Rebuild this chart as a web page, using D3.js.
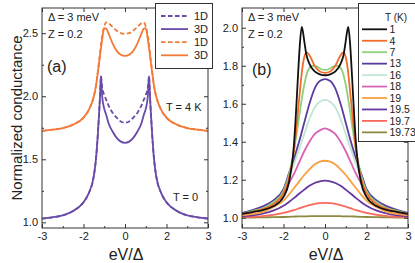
<!DOCTYPE html>
<html>
<head>
<meta charset="utf-8">
<script src="https://cdn.jsdelivr.net/npm/d3@7/dist/d3.min.js"></script>
<style>
  body { margin: 0; background: #fff; }
  svg { display: block; font-family: "Liberation Sans", Arial, sans-serif; }
</style>
</head>
<body>
<div id="chart"></div>
<script>
// ---- data ----
var xTicks = [-4, -2, 0, 2, 4];
var xTickLabels = ["-3", "-2", "0", "2", "3"];
var xMinor = [-3, -1, 1, 3];

var yTicksA = [1.0, 1.5, 2.0, 2.5];
var yMinorA = [1.25, 1.75, 2.25];
var yTicksB = [1.0, 1.2, 1.4, 1.6, 1.8, 2.0];
var yMinorB = [1.1, 1.3, 1.5, 1.7, 1.9];

// panel (a)
var xA = [-4, -3.5, -3, -2.5, -2, -1.75, -1.5, -1.4, -1.3, -1.25, -1.2, -1.16, -1.1, -1, -0.9, -0.8, -0.6, -0.4, -0.2, 0,
          0.2, 0.4, 0.6, 0.8, 0.9, 1, 1.1, 1.16, 1.2, 1.25, 1.3, 1.4, 1.5, 1.75, 2, 2.5, 3, 3.5, 4];
var t0_3D = [1.03, 1.04, 1.055, 1.09, 1.16, 1.23, 1.37, 1.5, 1.72, 1.86, 2.01, 2.16, 2.0, 1.9, 1.85, 1.79, 1.72, 1.67, 1.64, 1.63,
             1.64, 1.67, 1.72, 1.79, 1.85, 1.9, 2.0, 2.16, 2.01, 1.86, 1.72, 1.5, 1.37, 1.23, 1.16, 1.09, 1.055, 1.04, 1.03];
var t0_1D = [1.03, 1.04, 1.055, 1.09, 1.16, 1.23, 1.37, 1.5, 1.72, 1.86, 2.01, 2.16, 2.07, 2.01, 1.97, 1.93, 1.87, 1.83, 1.80, 1.79,
             1.80, 1.83, 1.87, 1.93, 1.97, 2.01, 2.07, 2.16, 2.01, 1.86, 1.72, 1.5, 1.37, 1.23, 1.16, 1.09, 1.055, 1.04, 1.03];
var t4_3D = [1.725, 1.735, 1.748, 1.775, 1.83, 1.89, 2.0, 2.08, 2.2, 2.26, 2.33, 2.38, 2.45, 2.54, 2.535, 2.5, 2.42, 2.36, 2.33, 2.32,
             2.33, 2.36, 2.42, 2.5, 2.535, 2.54, 2.45, 2.38, 2.33, 2.26, 2.2, 2.08, 2.0, 1.89, 1.83, 1.775, 1.748, 1.735, 1.725];
var t4_1D = [1.725, 1.735, 1.748, 1.775, 1.83, 1.89, 2.0, 2.08, 2.21, 2.28, 2.35, 2.41, 2.48, 2.555, 2.585, 2.58, 2.55, 2.52, 2.50, 2.495,
             2.50, 2.52, 2.55, 2.58, 2.585, 2.555, 2.48, 2.41, 2.35, 2.28, 2.21, 2.08, 2.0, 1.89, 1.83, 1.775, 1.748, 1.735, 1.725];

// panel (b)
var tempLabels = ["1", "4", "7", "13", "16", "18", "19", "19.5", "19.7", "19.73"];
var tempColors = ["#111111", "#f26b2a", "#8fd07a", "#5b3c9e", "#c2e6d3", "#d862b5", "#f9a142", "#64389f", "#f8695c", "#8c8a3e"];

var x1K = [-4, -3.5, -3, -2.5, -2, -1.75, -1.5, -1.4, -1.3, -1.2, -1.12, -1.05, -1, -0.9, -0.75, -0.5, -0.25, 0,
           0.25, 0.5, 0.75, 0.9, 1, 1.05, 1.12, 1.2, 1.3, 1.4, 1.5, 1.75, 2, 2.5, 3, 3.5, 4];
var g1K = [1.02, 1.03, 1.04, 1.06, 1.11, 1.18, 1.38, 1.55, 1.75, 1.93, 2.005, 1.97, 1.93, 1.86, 1.81, 1.77, 1.755, 1.75,
           1.755, 1.77, 1.81, 1.86, 1.93, 1.97, 2.005, 1.93, 1.75, 1.55, 1.38, 1.18, 1.11, 1.06, 1.04, 1.03, 1.02];
var x4K = [-4, -3.5, -3, -2.5, -2, -1.75, -1.5, -1.4, -1.25, -1.1, -1, -0.88, -0.75, -0.5, -0.25, 0,
           0.25, 0.5, 0.75, 0.88, 1, 1.1, 1.25, 1.4, 1.5, 1.75, 2, 2.5, 3, 3.5, 4];
var g4K = [1.02, 1.03, 1.045, 1.07, 1.13, 1.2, 1.35, 1.45, 1.62, 1.78, 1.845, 1.87, 1.855, 1.80, 1.77, 1.763,
           1.77, 1.80, 1.855, 1.87, 1.845, 1.78, 1.62, 1.45, 1.35, 1.2, 1.13, 1.07, 1.045, 1.03, 1.02];
var x7K = [-4, -3.5, -3, -2.5, -2, -1.75, -1.5, -1.25, -1, -0.8, -0.6, -0.4, -0.2, 0,
           0.2, 0.4, 0.6, 0.8, 1, 1.25, 1.5, 1.75, 2, 2.5, 3, 3.5, 4];
var g7K = [1.02, 1.035, 1.05, 1.08, 1.14, 1.22, 1.35, 1.53, 1.70, 1.78, 1.80, 1.795, 1.783, 1.778,
           1.783, 1.795, 1.80, 1.78, 1.70, 1.53, 1.35, 1.22, 1.14, 1.08, 1.05, 1.035, 1.02];

var xBell = [-4, -3.5, -3, -2.5, -2, -1.75, -1.5, -1.25, -1, -0.75, -0.5, -0.25, 0,
             0.25, 0.5, 0.75, 1, 1.25, 1.5, 1.75, 2, 2.5, 3, 3.5, 4];
var g13K = [1.026, 1.04, 1.06, 1.09, 1.15, 1.23, 1.31, 1.40, 1.50, 1.60, 1.68, 1.72, 1.73,
            1.72, 1.68, 1.60, 1.50, 1.40, 1.31, 1.23, 1.15, 1.09, 1.06, 1.04, 1.026];
var g16K = [1.022, 1.035, 1.055, 1.09, 1.15, 1.21, 1.28, 1.36, 1.44, 1.52, 1.58, 1.61, 1.62,
            1.61, 1.58, 1.52, 1.44, 1.36, 1.28, 1.21, 1.15, 1.09, 1.055, 1.035, 1.022];
var g18K = [1.018, 1.03, 1.045, 1.08, 1.13, 1.18, 1.23, 1.29, 1.35, 1.40, 1.44, 1.46, 1.47,
            1.46, 1.44, 1.40, 1.35, 1.29, 1.23, 1.18, 1.13, 1.08, 1.045, 1.03, 1.018];
var g19K = [1.012, 1.02, 1.03, 1.055, 1.09, 1.12, 1.155, 1.19, 1.225, 1.255, 1.28, 1.295, 1.30,
            1.295, 1.28, 1.255, 1.225, 1.19, 1.155, 1.12, 1.09, 1.055, 1.03, 1.02, 1.012];
var g195K = [1.008, 1.013, 1.022, 1.037, 1.063, 1.082, 1.103, 1.126, 1.148, 1.168, 1.183, 1.192, 1.195,
             1.192, 1.183, 1.168, 1.148, 1.126, 1.103, 1.082, 1.063, 1.037, 1.022, 1.013, 1.008];
var g197K = [1.003, 1.005, 1.009, 1.015, 1.025, 1.032, 1.040, 1.049, 1.058, 1.066, 1.073, 1.077, 1.078,
             1.077, 1.073, 1.066, 1.058, 1.049, 1.040, 1.032, 1.025, 1.015, 1.009, 1.005, 1.003];
var g1973K = [1.001, 1.001, 1.002, 1.003, 1.004, 1.005, 1.006, 1.007, 1.007, 1.008, 1.009, 1.009, 1.009,
              1.009, 1.009, 1.008, 1.007, 1.007, 1.006, 1.005, 1.004, 1.003, 1.002, 1.001, 1.001];

var purple = "#6a4aa8";
var orange = "#f47a38";

// ---- canvas ----
var svgWidth = 415, svgHeight = 263;
var svg = d3.select("#chart").append("svg")
    .attr("width", svgWidth)
    .attr("height", svgHeight);

function zip(xs, ys) {
    return xs.map(function(x, i) { return [x, ys[i]]; });
}

function drawPanel(p) {
    var xScale = d3.scaleLinear().domain([-4, 4]).range([p.left, p.right]);
    var yScale = d3.scaleLinear().domain(p.yDomain).range([p.bottom, p.top]);

    var clipId = "clip" + p.name;
    svg.append("clipPath").attr("id", clipId)
        .append("rect")
        .attr("x", p.left).attr("y", p.top)
        .attr("width", p.right - p.left).attr("height", p.bottom - p.top);

    var line = d3.line()
        .x(function(d) { return xScale(d[0]); })
        .y(function(d) { return yScale(d[1]); })
        .curve(d3.curveMonotoneX);

    var curves = svg.append("g").attr("clip-path", "url(#" + clipId + ")");
    p.series.forEach(function(s) {
        curves.append("path")
            .attr("d", line(zip(s.x, s.y)))
            .attr("fill", "none")
            .attr("stroke", s.color)
            .attr("stroke-width", 1.8)
            .attr("stroke-dasharray", s.dash ? "4.5,2.5" : null);
    });

    // axes: ticks pointing inward, mirrored on top / right
    function styleAxis(g) {
        g.select(".domain").remove();
        g.selectAll("line").attr("stroke", "#333");
        g.selectAll("text").attr("fill", "#222").attr("font-size", 11);
    }
    svg.append("g")
        .attr("transform", "translate(0," + p.bottom + ")")
        .call(d3.axisBottom(xScale).tickValues(xTicks).tickSize(-4).tickPadding(4)
            .tickFormat(function(d, i) { return xTickLabels[i]; }))
        .call(styleAxis);
    svg.append("g")
        .attr("transform", "translate(0," + p.bottom + ")")
        .call(d3.axisBottom(xScale).tickValues(xMinor).tickSize(-2).tickFormat(""))
        .call(styleAxis);
    svg.append("g")
        .attr("transform", "translate(0," + p.top + ")")
        .call(d3.axisTop(xScale).tickValues(xTicks).tickSize(-4).tickFormat(""))
        .call(styleAxis);
    svg.append("g")
        .attr("transform", "translate(0," + p.top + ")")
        .call(d3.axisTop(xScale).tickValues(xMinor).tickSize(-2).tickFormat(""))
        .call(styleAxis);

    svg.append("g")
        .attr("transform", "translate(" + p.left + ",0)")
        .call(d3.axisLeft(yScale).tickValues(p.yTicks).tickSize(-4).tickPadding(4)
            .tickFormat(d3.format(".1f")))
        .call(styleAxis);
    svg.append("g")
        .attr("transform", "translate(" + p.left + ",0)")
        .call(d3.axisLeft(yScale).tickValues(p.yMinor).tickSize(-2).tickFormat(""))
        .call(styleAxis);
    svg.append("g")
        .attr("transform", "translate(" + p.right + ",0)")
        .call(d3.axisRight(yScale).tickValues(p.yTicks).tickSize(-4).tickFormat(""))
        .call(styleAxis);
    svg.append("g")
        .attr("transform", "translate(" + p.right + ",0)")
        .call(d3.axisRight(yScale).tickValues(p.yMinor).tickSize(-2).tickFormat(""))
        .call(styleAxis);

    svg.append("rect")
        .attr("x", p.left).attr("y", p.top)
        .attr("width", p.right - p.left).attr("height", p.bottom - p.top)
        .attr("fill", "none").attr("stroke", "#333").attr("stroke-width", 1);

    // x title
    svg.append("text")
        .attr("x", (p.left + p.right) / 2 + 1)
        .attr("y", 260)
        .attr("text-anchor", "middle")
        .attr("font-size", 16)
        .attr("fill", "#222")
        .text("eV/\u0394");

    // annotations
    svg.append("text").attr("x", p.left + 6).attr("y", 20.5)
        .attr("font-size", 11).attr("fill", "#222").text("\u0394 = 3 meV");
    svg.append("text").attr("x", p.left + 6).attr("y", 38)
        .attr("font-size", 11).attr("fill", "#222").text("Z = 0.2");
    svg.append("text").attr("x", p.labelX).attr("y", p.labelY)
        .attr("font-size", 16).attr("fill", "#222").text(p.label);

    return { x: xScale, y: yScale };
}

// ---- panel (a) ----
drawPanel({
    name: "A", left: 42, right: 208, top: 8, bottom: 228,
    yDomain: [0.955, 2.70], yTicks: yTicksA, yMinor: yMinorA,
    label: "(a)", labelX: 47, labelY: 72,
    series: [
        { x: xA, y: t0_1D, color: purple, dash: true },
        { x: xA, y: t0_3D, color: purple },
        { x: xA, y: t4_1D, color: orange, dash: true },
        { x: xA, y: t4_3D, color: orange }
    ]
});

svg.append("text").attr("x", 166).attr("y", 111)
    .attr("font-size", 11).attr("fill", "#222").text("T = 4 K");
svg.append("text").attr("x", 173).attr("y", 201)
    .attr("font-size", 11).attr("fill", "#222").text("T = 0");

svg.append("text")
    .attr("transform", "translate(22,118) rotate(-90)")
    .attr("text-anchor", "middle")
    .attr("font-size", 15)
    .attr("fill", "#222")
    .text("Normalized conductance");

// legend (a)
var legendA = [
    { label: "1D", color: purple, dash: true },
    { label: "3D", color: purple },
    { label: "1D", color: orange, dash: true },
    { label: "3D", color: orange }
];
var gA = svg.append("g");
gA.append("rect").attr("x", 155.5).attr("y", 3.5).attr("width", 57).attr("height", 65)
    .attr("fill", "#fff").attr("stroke", "#333");
legendA.forEach(function(d, i) {
    var yy = 16 + i * 13.1;
    gA.append("line").attr("x1", 161).attr("x2", 188).attr("y1", yy).attr("y2", yy)
        .attr("stroke", d.color).attr("stroke-width", 1.8)
        .attr("stroke-dasharray", d.dash ? "4.5,2.5" : null);
    gA.append("text").attr("x", 208).attr("y", yy + 4).attr("text-anchor", "end")
        .attr("font-size", 11).attr("fill", "#222").text(d.label);
});

// ---- panel (b) ----
var seriesB = [
    { x: x1K, y: g1K }, { x: x4K, y: g4K }, { x: x7K, y: g7K },
    { x: xBell, y: g13K }, { x: xBell, y: g16K }, { x: xBell, y: g18K },
    { x: xBell, y: g19K }, { x: xBell, y: g195K }, { x: xBell, y: g197K },
    { x: xBell, y: g1973K }
].map(function(s, i) { s.color = tempColors[i]; return s; });

drawPanel({
    name: "B", left: 242, right: 408, top: 8, bottom: 228,
    yDomain: [0.946, 2.104], yTicks: yTicksB, yMinor: yMinorB,
    label: "(b)", labelX: 252, labelY: 75,
    series: seriesB.slice().reverse()
});

// legend (b)
var gB = svg.append("g");
gB.append("rect").attr("x", 358.5).attr("y", 3.5).attr("width", 70).attr("height", 138)
    .attr("fill", "#fff").attr("stroke", "#333");
gB.append("text").attr("x", 396).attr("y", 21).attr("text-anchor", "middle")
    .attr("font-size", 10).attr("fill", "#222").text("T (K)");
tempLabels.forEach(function(t, i) {
    var yy = 29.3 + i * 11.45;
    gB.append("line").attr("x1", 362).attr("x2", 387).attr("y1", yy).attr("y2", yy)
        .attr("stroke", tempColors[i]).attr("stroke-width", 1.8);
    gB.append("text").attr("x", 389.5).attr("y", yy + 3.8)
        .attr("font-size", 10.5).attr("fill", "#222").text(t);
});
</script>
</body>
</html>
